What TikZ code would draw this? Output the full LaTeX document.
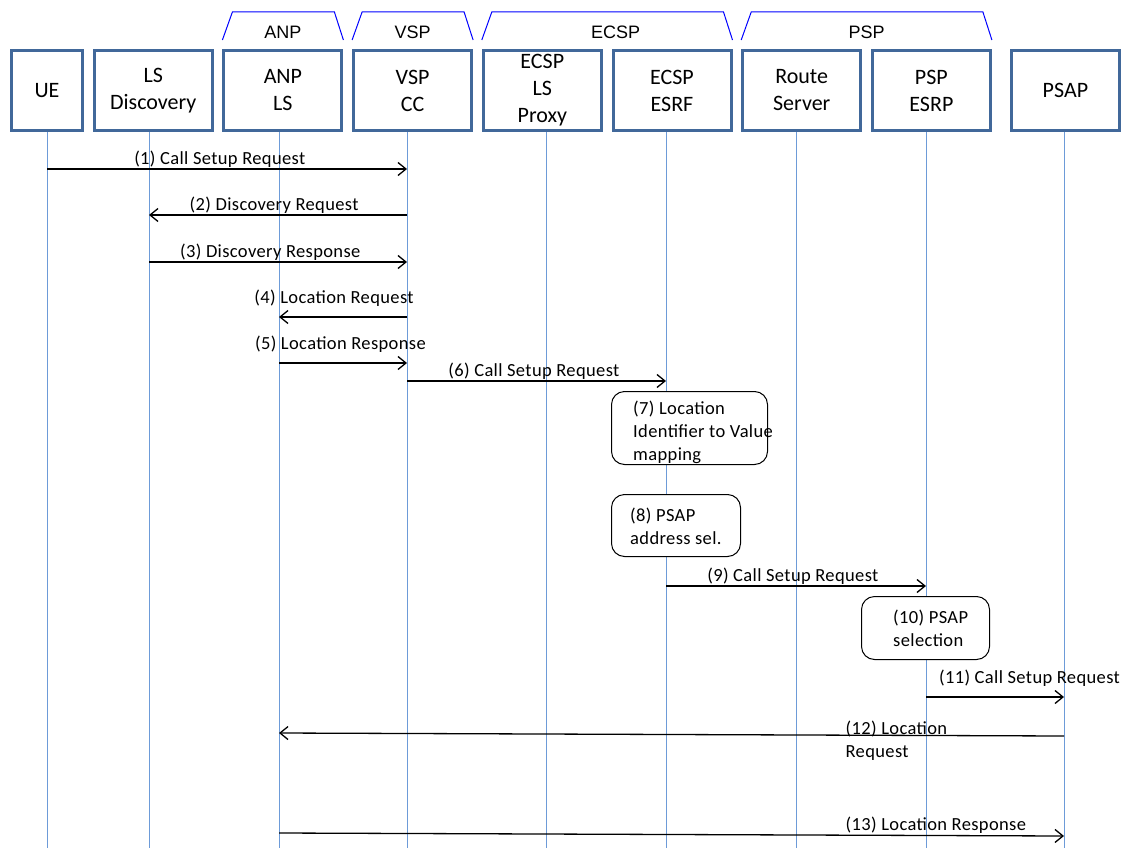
\documentclass[tikz,border=0pt]{standalone}
\usepackage{fontspec}
\setmainfont{Carlito}
\newfontfamily\headfont{Liberation Sans}
\newfontfamily\msgfont{Carlito}[LetterSpace=2]
\usetikzlibrary{calc,positioning,arrows.meta}
\definecolor{boxblue}{RGB}{65,104,154}
\definecolor{lifeblue}{RGB}{109,155,216}

\begin{document}
\begin{tikzpicture}[x=1pt,y=-1pt,
    node distance=8.7pt,
    entity/.style={draw=boxblue, line width=3pt, minimum width=118pt, minimum height=80pt,
      align=center, inner sep=0pt, font=\fontsize{22}{27}\selectfont},
    life/.style={draw=lifeblue, line width=1pt},
    msg/.style={line width=1.3pt, -{Straight Barb[length=8pt,width=13pt,line width=1.3pt]}},
    lbl/.style={inner sep=0pt, font=\msgfont\fontsize{18.5}{23}\selectfont},
    note/.style={draw, line width=1pt, rounded corners=13pt, fill=white},
    group/.style={draw=blue, line width=1pt},
    grouplbl/.style={inner sep=0pt, font=\headfont\fontsize{18}{20}\selectfont}]
    \useasboundingbox (0,0) rectangle (1129,848);

    % entities
    \node[entity, minimum width=71pt] (ue) at (47,90.5) {UE};
    \node[entity, right=of ue] (lsd) {LS\\Discovery};
    \node[entity, right=of lsd] (anp) {ANP\\LS};
    \node[entity, right=of anp] (vsp) {VSP\\CC};
    \node[entity, right=of vsp] (lsp) {ECSP\\LS\\Proxy};
    \node[entity, right=of lsp] (esrf) {ECSP\\ESRF};
    \node[entity, right=of esrf] (route) {Route\\Server};
    \node[entity, right=of route] (esrp) {PSP\\ESRP};
    \node[entity, minimum width=108pt, right=18pt of esrp] (psap) {PSAP};

    % provider groups
    \draw[group] ($(anp.north west)+(0,-9)$) -- ++(10,-28) -- ($(anp.north east)+(-9,-37)$) -- ($(anp.north east)+(0,-9)$);
    \draw[group] ($(vsp.north west)+(0,-9)$) -- ++(10,-28) -- ($(vsp.north east)+(-9,-37)$) -- ($(vsp.north east)+(0,-9)$);
    \draw[group] ($(lsp.north west)+(0,-9)$) -- ++(10,-28) -- ($(esrf.north east)+(-9,-37)$) -- ($(esrf.north east)+(0,-9)$);
    \draw[group] ($(route.north west)+(0,-9)$) -- ++(10,-28) -- ($(esrp.north east)+(-9,-37)$) -- ($(esrp.north east)+(0,-9)$);
    \node[grouplbl] (g-anp) at ($(anp.north)+(0,-17)$) {ANP};
    \node[grouplbl] (g-vsp) at ($(vsp.north)+(0,-17)$) {VSP};
    \node[grouplbl] (g-ecsp) at ($(esrf.north west)+(4,-17)$) {ECSP};
    \node[grouplbl] (g-psp) at ($(route.north east)!0.5!(esrp.north west)+(0,-17)$) {PSP};

    % lifelines
    \foreach \n/\x in {ue/47, lsd/149, anp/279, vsp/407, lsp/546, esrf/666, route/796, esrp/926, psap/1064}
      \draw[life] (\x,132) coordinate (\n-l) -- (\x,848);

    % messages
    \draw[msg] (ue-l |- 0,169) -- (vsp-l |- 0,169) node[lbl, pos=0.48, above=1pt] (m1) {(1) Call Setup Request};
    \draw[msg] (vsp-l |- 0,215) -- (lsd-l |- 0,215) node[lbl, pos=0.515, above=1pt] (m2) {(2) Discovery Request};
    \draw[msg] (lsd-l |- 0,262) -- (vsp-l |- 0,262) node[lbl, pos=0.47, above=1pt] (m3) {(3) Discovery Response};
    \draw[msg] (vsp-l |- 0,317) -- (anp-l |- 0,317) node[lbl, pos=0.57, above=10pt] (m4) {(4) Location Request};
    \draw[msg] (anp-l |- 0,363) -- (vsp-l |- 0,363) node[lbl, pos=0.48, above=10pt] (m5) {(5) Location Response};
    \draw[msg] (vsp-l |- 0,381) -- (esrf-l |- 0,381) node[lbl, pos=0.49, above=1pt] (m6) {(6) Call Setup Request};

    \node[note, minimum width=156pt, minimum height=73pt] (n7) at (689.5,428) {};
    \node[lbl, align=left, anchor=west] (t7) at ($(n7.west)+(22,4.5)$) {(7) Location\\Identifier to Value\\mapping};
    \node[note, minimum width=129pt, minimum height=62pt] (n8) at (676,525.5) {};
    \node[lbl, align=left, anchor=west] (t8) at ($(n8.west)+(19,1)$) {(8) PSAP\\address sel.};

    \draw[msg] (esrf-l |- 0,586) -- (esrp-l |- 0,586) node[lbl, pos=0.488, above=1pt] (m9) {(9) Call Setup Request};

    \node[note, minimum width=128pt, minimum height=63pt] (n10) at (925.5,628) {};
    \node[lbl, align=left, anchor=west] (t10) at ($(n10.west)+(32,0)$) {(10) PSAP\\selection};

    \draw[msg] (esrp-l |- 0,697) -- (psap-l |- 0,697) node[lbl, pos=0.75, above=10pt] (m11) {(11) Call Setup Request};
    \draw[msg] (psap-l |- 0,736) -- (anp-l |- 0,733) node[lbl, pos=0.279, anchor=north west, align=left, yshift=15pt] (m12) {(12) Location\\Request};
    \draw[msg] (anp-l |- 0,833) -- (psap-l |- 0,836) node[lbl, pos=0.721, anchor=south west, yshift=1pt] (m13) {(13) Location Response};
\end{tikzpicture}
\end{document}
